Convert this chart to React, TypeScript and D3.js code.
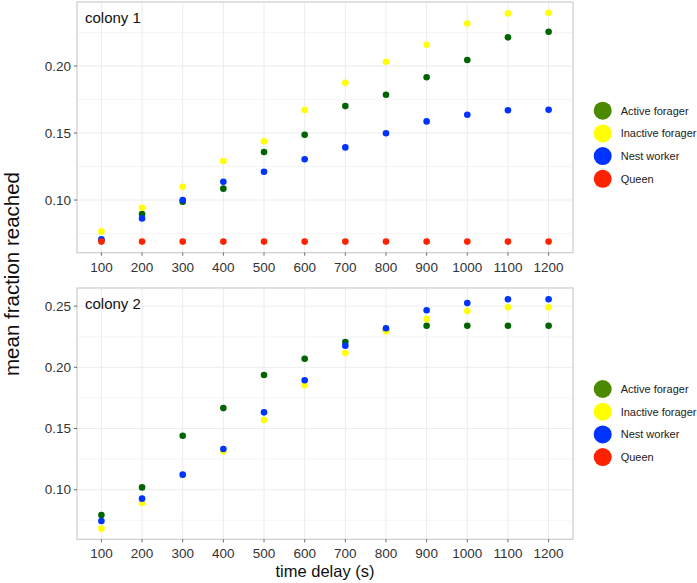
import React from "react";
import * as d3 from "d3";

const delays = [100, 200, 300, 400, 500, 600, 700, 800, 900, 1000, 1100, 1200];
const seriesNames = ["Active forager", "Inactive forager", "Nest worker", "Queen"];
const pointColors = ["#006400", "#ffff00", "#0033ff", "#ff2200"];
const legendColors = ["#4b8a00", "#ffff00", "#0033ff", "#ff2200"];

// colony 1
const c1Active = [0.0700, 0.0896, 0.0988, 0.1085, 0.1358, 0.1487, 0.1701, 0.1786, 0.1916, 0.2045, 0.2214, 0.2256];
const c1Inactive = [0.0766, 0.0943, 0.1099, 0.1291, 0.1438, 0.1672, 0.1875, 0.2032, 0.2159, 0.2318, 0.2393, 0.2398];
const c1Nest = [0.0707, 0.0863, 0.1000, 0.1137, 0.1211, 0.1304, 0.1393, 0.1498, 0.1587, 0.1637, 0.1670, 0.1674];
const c1Queen = [0.0690, 0.0690, 0.0690, 0.0690, 0.0690, 0.0690, 0.0690, 0.0690, 0.0690, 0.0690, 0.0690, 0.0690];

// colony 2
const c2Active = [0.0793, 0.1019, 0.1441, 0.1667, 0.1937, 0.2070, 0.2207, 0.2300, 0.2340, 0.2340, 0.2340, 0.2340];
const c2Inactive = [0.0682, 0.0891, 0.1120, 0.1314, 0.1569, 0.1855, 0.2117, 0.2294, 0.2395, 0.2460, 0.2490, 0.2490];
const c2Nest = [0.0744, 0.0927, 0.1123, 0.1333, 0.1632, 0.1894, 0.2176, 0.2319, 0.2466, 0.2525, 0.2556, 0.2556];
const c2Queen: number[] = [];

const c1Ticks = [0.10, 0.15, 0.20];
const c2Ticks = [0.10, 0.15, 0.20, 0.25];

const panels = [
  { label: "colony 1", series: [c1Active, c1Inactive, c1Nest, c1Queen], ticks: c1Ticks, domain: [0.0607, 0.2478], top: 2, bottom: 252.7 },
  { label: "colony 2", series: [c2Active, c2Inactive, c2Nest, c2Queen], ticks: c2Ticks, domain: [0.0595, 0.2648], top: 288, bottom: 539.3 },
];

const legendTops = [110.7, 389];

const FONT = "Liberation Sans, Arial, sans-serif";

export default function App() {
  const left = 77;
  const right = 573;
  const x = d3
    .scalePoint<number>()
    .domain(delays)
    .range([left, right])
    .padding(0.6);

  return (
    <svg width={697} height={583} style={{ position: "absolute", left: 0, top: 0, background: "#fff" }} fontFamily={FONT}>
      {panels.map((p, pi) => {
        const y = d3.scaleLinear().domain(p.domain).range([p.bottom, p.top]);
        const minor = p.ticks.map((t) => t - 0.025).concat([p.ticks[p.ticks.length - 1] + 0.025]).filter((t) => t > p.domain[0] && t < p.domain[1]);
        return (
          <g key={pi}>
            {minor.map((t) => (
              <line key={"mi" + t} x1={left} x2={right} y1={y(t)} y2={y(t)} stroke="#f4f4f4" strokeWidth={0.8} />
            ))}
            {p.ticks.map((t) => (
              <line key={"ma" + t} x1={left} x2={right} y1={y(t)} y2={y(t)} stroke="#ececec" strokeWidth={1} />
            ))}
            {delays.map((d) => (
              <line key={"vx" + d} x1={x(d)} x2={x(d)} y1={p.top} y2={p.bottom} stroke="#ececec" strokeWidth={1} />
            ))}
            <rect x={left} y={p.top} width={right - left} height={p.bottom - p.top} fill="none" stroke="#d0d0d0" strokeWidth={1.3} />
            {p.series.map((s, si) =>
              s.map((v, i) => (
                <circle key={si + "-" + i} cx={x(delays[i])} cy={y(v)} r={3.3} fill={pointColors[si]} />
              ))
            )}
            {p.ticks.map((t) => (
              <g key={"yt" + t}>
                <line x1={left - 3} x2={left} y1={y(t)} y2={y(t)} stroke="#444" strokeWidth={0.8} />
                <text x={left - 6} y={y(t)} dy="0.35em" textAnchor="end" fontSize={13.5} fill="#333">
                  {t.toFixed(2)}
                </text>
              </g>
            ))}
            {delays.map((d) => (
              <g key={"xt" + d}>
                <line x1={x(d)} x2={x(d)} y1={p.bottom} y2={p.bottom + 3} stroke="#444" strokeWidth={0.8} />
                <text x={x(d)} y={p.bottom + 19} textAnchor="middle" fontSize={13.5} fill="#333">
                  {d}
                </text>
              </g>
            ))}
            <text x={85} y={p.top + 21} fontSize={15} fill="#111">
              {p.label}
            </text>
            {seriesNames.map((n, si) => (
              <g key={"lg" + si}>
                <circle cx={602.7} cy={legendTops[pi] + si * 22.7} r={9} fill={legendColors[si]} />
                <text x={620.7} y={legendTops[pi] + si * 22.7} dy="0.35em" fontSize={11} fill="#222">
                  {n}
                </text>
              </g>
            ))}
          </g>
        );
      })}
      <text x={325} y={577} textAnchor="middle" fontSize={16.5} fill="#111">
        time delay (s)
      </text>
      <text transform="translate(19,274) rotate(-90)" textAnchor="middle" fontSize={20.5} fill="#111">
        mean fraction reached
      </text>
    </svg>
  );
}
